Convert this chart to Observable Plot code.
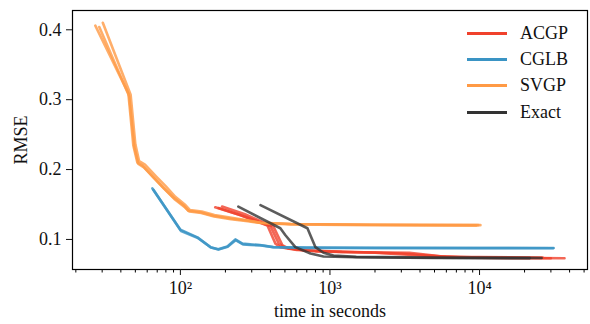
<!DOCTYPE html>
<html>
<head>
<meta charset="utf-8">
<script src="https://cdn.jsdelivr.net/npm/d3@7"></script>
<script src="https://cdn.jsdelivr.net/npm/@observablehq/plot@0.6"></script>
<style>
  body { margin: 0; background: #fff; }
  #wrap { position: relative; width: 590px; height: 324px; font-family: "Liberation Serif", "DejaVu Serif", serif; }
  #wrap svg text { font-family: "Liberation Serif", "DejaVu Serif", serif; }
  #legend { position: absolute; left: 467px; top: 20px; font-size: 18px; color: #111; }
  .item { display: flex; align-items: center; height: 26.3px; }
  .sw { width: 40px; height: 3px; margin-right: 13px; }
</style>
</head>
<body>
<div id="wrap"><div id="legend"></div></div>
<script>
// ---- data: [time in seconds, RMSE] per run ----
const seriesNames = ["ACGP", "CGLB", "SVGP", "Exact"];
const seriesColors = ["#f0412c", "#3a94c4", "#ff9a45", "#333333"];

const acgpRun1 = [[171,0.146],[250,0.135],[382,0.120],[432,0.094],[466,0.089],[600,0.085],[1200,0.082],[3400,0.081],[5500,0.076],[10000,0.074],[37000,0.073]];
const acgpRun2 = [[180,0.145],[260,0.134],[400,0.119],[455,0.094],[500,0.088],[700,0.084],[1500,0.082],[3000,0.080],[6000,0.075],[26400,0.074]];
const acgpRun3 = [[190,0.147],[270,0.136],[420,0.118],[480,0.092],[530,0.087],[800,0.083],[2000,0.081],[4000,0.077],[8000,0.074],[30000,0.073]];

const cglbRun1 = [[65,0.173],[100,0.114],[130,0.103],[159,0.089],[179,0.086],[206,0.090],[233,0.100],[260,0.094],[293,0.093],[340,0.092],[418,0.089],[700,0.0885],[2000,0.088],[10000,0.0878],[31300,0.0877]];
const cglbRun2 = [[66,0.171],[101,0.112],[131,0.102],[160,0.0885],[180,0.0855],[207,0.0895],[234,0.099],[262,0.093],[295,0.092],[345,0.0915],[420,0.0888],[700,0.088],[2000,0.0878],[10000,0.0876],[31000,0.0875]];

const svgpRun1 = [[27.0,0.406],[44.9,0.309],[48.5,0.234],[51.6,0.210],[55.7,0.206],[66.0,0.189],[76.9,0.174],[89.8,0.160],[104.7,0.149],[113.1,0.141],[136,0.139],[166,0.134],[216,0.130],[280,0.127],[343,0.124],[544,0.122],[1866,0.121],[10140,0.1205]];
const svgpRun2 = [[28.7,0.404],[45.5,0.305],[49.3,0.232],[52.4,0.208],[57.0,0.203],[68.0,0.186],[78.5,0.172],[91.0,0.158],[106,0.147],[115,0.140],[138,0.138],[168,0.133],[218,0.129],[282,0.126],[345,0.1235],[550,0.1215],[1900,0.1205],[9500,0.120]];
const svgpRun3 = [[30.3,0.410],[46.5,0.307],[50.0,0.236],[53.0,0.212],[58.0,0.207],[69.0,0.190],[80.0,0.176],[92.5,0.161],[107,0.150],[116,0.142],[139,0.140],[169,0.135],[220,0.131],[284,0.127],[347,0.124],[555,0.122],[1950,0.121],[9800,0.1205]];

const exactRun1 = [[244,0.147],[466,0.116],[504,0.106],[587,0.089],[741,0.080],[905,0.0757],[1500,0.0745],[5000,0.0735],[21700,0.0733]];
const exactRun2 = [[343,0.149],[707,0.116],[800,0.089],[905,0.081],[1056,0.077],[1500,0.075],[5000,0.074],[26000,0.0735]];

const xTickValues = [100, 1000, 10000];
const xTickLabels = ["10²", "10³", "10⁴"];
const yTickValues = [0.1, 0.2, 0.3, 0.4];

// ---- build table ----
const runs = [
  ["ACGP", acgpRun1], ["ACGP", acgpRun2], ["ACGP", acgpRun3],
  ["CGLB", cglbRun1], ["CGLB", cglbRun2],
  ["SVGP", svgpRun1], ["SVGP", svgpRun2], ["SVGP", svgpRun3],
  ["Exact", exactRun1], ["Exact", exactRun2]
];
const rows = [];
runs.forEach(([name, pts], i) => pts.forEach(([t, r]) => rows.push({series: name, run: i, t, r})));

const minorTicks = [];
for (let e = 1; e <= 4; e++) for (let m = 2; m <= 9; m++) {
  const v = m * Math.pow(10, e);
  if (v >= 19 && v <= 52700) minorTicks.push(v);
}

const chart = Plot.plot({
  width: 590,
  height: 324,
  marginLeft: 72,
  marginRight: 3,
  marginTop: 10,
  marginBottom: 55,
  style: {fontFamily: "'Liberation Serif', 'DejaVu Serif', serif", fontSize: "18px", color: "#111", background: "white"},
  x: {type: "log", domain: [19, 52700]},
  y: {domain: [0.057, 0.4276]},
  color: {domain: seriesNames, range: seriesColors},
  marks: [
    ...seriesNames.map(name => Plot.line(rows.filter(d => d.series === name), {
      x: "t", y: "r", z: "run", stroke: "series", strokeWidth: 2.6, strokeOpacity: 0.8, curve: "linear"
    })),
    Plot.frame({stroke: "black", strokeWidth: 1.2}),
    Plot.axisX({ticks: minorTicks, tickSize: 3.5, tickFormat: () => "", label: null, stroke: "black"}),
    Plot.axisX({ticks: xTickValues, tickSize: 6, tickPadding: 6, tickFormat: (d) => xTickLabels[xTickValues.indexOf(d)],
      label: "time in seconds", labelAnchor: "center", labelArrow: "none", labelOffset: 47, fontSize: 18}),
    Plot.axisY({ticks: yTickValues, tickSize: 6, tickPadding: 5, tickFormat: d3.format(".1f"),
      label: "RMSE", labelAnchor: "center", labelArrow: "none", labelOffset: 58, fontSize: 18})
  ]
});
document.getElementById("wrap").prepend(chart);

const legend = document.getElementById("legend");
seriesNames.forEach((name, i) => {
  const it = document.createElement("div");
  it.className = "item";
  it.innerHTML = `<div class="sw" style="background:${seriesColors[i]}"></div><span>${name}</span>`;
  legend.appendChild(it);
});
</script>
</body>
</html>
